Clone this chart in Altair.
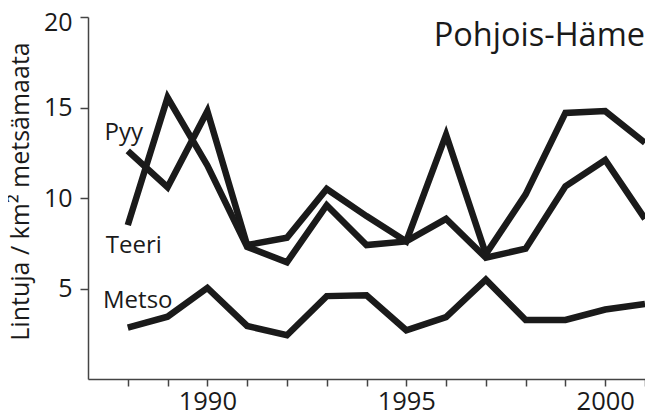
import altair as alt
import pandas as pd

years = list(range(1988, 2002))
pyy = [12.6, 10.6, 14.8, 7.4, 7.8, 10.5, 9.0, 7.6, 13.5, 6.9, 10.2, 14.7, 14.8, 13.05]
teeri = [8.5, 15.55, 11.8, 7.3, 6.45, 9.6, 7.4, 7.6, 8.85, 6.7, 7.2, 10.65, 12.1, 8.85]
metso = [2.84, 3.44, 5.03, 2.93, 2.42, 4.58, 4.63, 2.69, 3.42, 5.49, 3.26, 3.26, 3.84, 4.15]
series_names = ["Pyy", "Teeri", "Metso"]
title_text = "Pohjois-Häme"
y_title = "Lintuja / km² metsämaata"
x_tick_years = years
y_tick_values = [5, 10, 15, 20]

rows = []
for name, vals in zip(series_names, [pyy, teeri, metso]):
    for yr, v in zip(years, vals):
        rows.append({"year": yr, "value": v, "species": name})
df = pd.DataFrame(rows)
title_df = pd.DataFrame({"year": [years[-1]], "value": [y_tick_values[-1]],
                         "text": [title_text]})

FONT = "Open Sans"
INK = "#1a1a1a"
AX = "#444444"

xs = alt.Scale(domain=[1987, 2001], nice=False, zero=False)
ys = alt.Scale(domain=[0, 20], nice=False)

x_enc = alt.X("year:Q", scale=xs, axis=alt.Axis(
    values=x_tick_years, format="d",
    labelExpr="datum.value % 5 == 0 ? datum.label : ''",
    title=None, grid=False, tickSize=7, tickColor=AX, domainColor=AX,
    domainWidth=1.5, tickWidth=1.5, labelFontSize=25.5, labelFont=FONT,
    labelColor=INK, labelPadding=3, labelFlush=False))
y_enc = alt.Y("value:Q", scale=ys, axis=alt.Axis(
    values=y_tick_values, title=y_title, grid=False, tickSize=8,
    tickColor=AX, domainColor=AX, domainWidth=1.5, tickWidth=1.5,
    labelFontSize=25, labelFont=FONT, labelColor=INK, labelPadding=8,
    labelFlush=False,
    labelOffset={"condition": {"test": "datum.value == 20", "value": 5},
                 "value": 0},
    titleFont=FONT, titleFontSize=25, titleFontWeight="normal",
    titleColor=INK, titleX=-60, titleY=174, titleAngle=-90,
    titleAlign="center", titleBaseline="alphabetic"))

base = alt.Chart(df)
lines = base.mark_line(strokeWidth=6.5, strokeCap="butt", strokeJoin="miter",
                       color=INK).encode(x=x_enc, y=y_enc, detail="species:N")

def label(name, dx, dy):
    return base.transform_filter(
        f"datum.species == '{name}' && datum.year == {years[0]}"
    ).mark_text(dx=dx, dy=dy, align="center", baseline="alphabetic",
                fontSize=24, font=FONT, color=INK).encode(
        x=alt.X("year:Q", scale=xs), y=alt.Y("value:Q", scale=ys),
        text="species:N")

title_mark = alt.Chart(title_df).mark_text(
    align="right", baseline="alphabetic", dx=0, dy=29, fontSize=32.5,
    font=FONT, color=INK).encode(
    x=alt.X("year:Q", scale=xs), y=alt.Y("value:Q", scale=ys), text="text:N")

chart = alt.layer(
    lines,
    label("Pyy", -4, -11),
    label("Teeri", 6, 27.8),
    label("Metso", 10, -19.3),
    title_mark,
).properties(
    width=557, height=362,
    autosize=alt.AutoSizeParams(type="none"),
    padding={"left": 80, "top": 9, "right": 0, "bottom": 32},
).configure_view(stroke=None)

chart.save("out.html", embed_options={"renderer": "svg", "actions": False})
